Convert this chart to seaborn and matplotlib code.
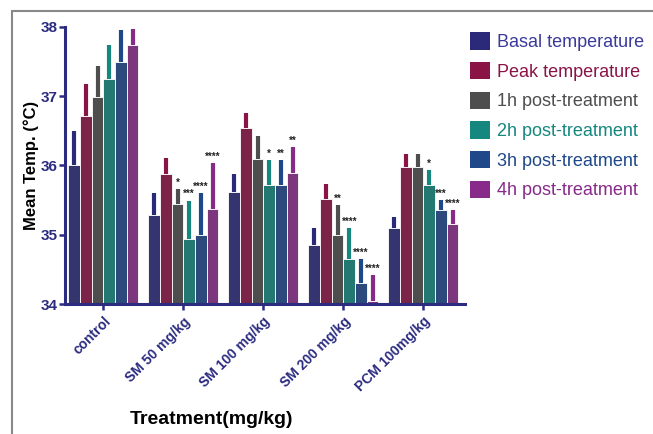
import matplotlib
matplotlib.use("Agg")
import matplotlib.pyplot as plt
from matplotlib.lines import Line2D
from matplotlib.patches import Patch
import seaborn as sns
import pandas as pd
import numpy as np

groups = ["control", "SM 50 mg/kg", "SM 100 mg/kg", "SM 200 mg/kg", "PCM 100mg/kg"]
series = ["Basal temperature", "Peak temperature", "1h post-treatment",
          "2h post-treatment", "3h post-treatment", "4h post-treatment"]
means = {
    "Basal temperature": [36.00, 35.29, 35.62, 34.85, 35.09],
    "Peak temperature":  [36.71, 35.88, 36.54, 35.52, 35.97],
    "1h post-treatment": [36.99, 35.44, 36.09, 35.00, 35.97],
    "2h post-treatment": [37.25, 34.94, 35.72, 34.65, 35.72],
    "3h post-treatment": [37.49, 34.99, 35.72, 34.30, 35.36],
    "4h post-treatment": [37.74, 35.37, 35.89, 34.05, 35.16],
}
upper = {
    "Basal temperature": [36.49, 35.60, 35.88, 35.09, 35.26],
    "Peak temperature":  [37.17, 36.10, 36.76, 35.73, 36.16],
    "1h post-treatment": [37.43, 35.66, 36.43, 35.43, 36.16],
    "2h post-treatment": [37.73, 35.49, 36.08, 35.10, 35.93],
    "3h post-treatment": [37.95, 35.60, 36.08, 34.65, 35.50],
    "4h post-treatment": [37.97, 36.03, 36.26, 34.42, 35.35],
}
stars = {
    "Basal temperature": ["", "", "", "", ""],
    "Peak temperature":  ["", "", "", "", ""],
    "1h post-treatment": ["", "*", "", "**", ""],
    "2h post-treatment": ["", "***", "*", "****", "*"],
    "3h post-treatment": ["", "****", "**", "****", "***"],
    "4h post-treatment": ["", "****", "**", "****", "****"],
}
colors = ["#2a2a78", "#8a1446", "#4e4e4e", "#15877e", "#1f4889", "#872a89"]
text_colors = ["#3a3a9c", "#8a1446", "#4e4e4e", "#15877e", "#1f4889", "#872a89"]
navy = "#2b2b80"

rows = []
for s in series:
    for g, m in zip(groups, means[s]):
        rows.append({"group": g, "series": s, "temp": m})
df = pd.DataFrame(rows)

sns.set_theme(style="white")
plt.rcParams["font.family"] = ["Liberation Sans", "DejaVu Sans"]

fig = plt.figure(figsize=(6.53, 4.34), dpi=100)
ax = fig.add_axes([0.0995, 0.2995, 0.6125, 0.639])

sns.barplot(data=df, x="group", y="temp", hue="series", order=groups,
            hue_order=series, palette=colors, width=0.875, errorbar=None,
            edgecolor="white", linewidth=0.6, ax=ax, legend=False)

for s, cont, c in zip(series, ax.containers, colors):
    xs = [p.get_x() + p.get_width() / 2 for p in cont]
    m = np.array(means[s])
    u = np.array(upper[s])
    ax.errorbar(xs, m, yerr=[np.zeros_like(m), u - m], fmt="none",
                ecolor=c, elinewidth=3.0, capsize=0)
    for x, top, st in zip(xs, u, stars[s]):
        if st:
            ax.text(x, top + 0.02, st, ha="center", va="bottom",
                    fontsize=7, fontweight="bold", color="#222222")

ax.set_ylim(34, 38)
ax.set_xlim(-0.48, 4.52)
ax.set_yticks([34, 35, 36, 37, 38])
sns.despine(ax=ax)
for sp in ["left", "bottom"]:
    ax.spines[sp].set_color(navy)
    ax.spines[sp].set_linewidth(2.2)
ax.tick_params(axis="both", colors=navy, length=4, width=1.8, direction="out",
               left=True, bottom=True)
ax.tick_params(axis="y", pad=1.5)
for lab in ax.get_yticklabels():
    lab.set_fontweight("bold"); lab.set_fontsize(11); lab.set_color(navy)
ax.set_xticks(range(len(groups)))
ax.set_xticklabels(groups, rotation=45, ha="right", rotation_mode="anchor",
                   fontsize=10, fontweight="bold", color=navy)
ax.set_ylabel("Mean Temp. (°C)", fontsize=12, fontweight="bold", color="black",
              labelpad=1)
ax.set_xlabel("Treatment(mg/kg)", fontsize=14, fontweight="bold", color="black")
ax.xaxis.set_label_coords(0.3675, -0.386)
ax.xaxis.label.set_va("top")

handles = [Patch(facecolor=c, edgecolor="none") for c in colors]
leg = fig.legend(handles, series, loc="upper left", bbox_to_anchor=(0.695, 0.963),
                 frameon=False, fontsize=13, handlelength=1.1, handleheight=1.1,
                 handletextpad=0.4, labelspacing=0.6)
for t, c in zip(leg.get_texts(), text_colors):
    t.set_color(c)

fig.add_artist(Line2D([12 / 653, 12 / 653], [0, 1 - 11 / 434], color="#888888", lw=1.5))
fig.add_artist(Line2D([12 / 653, 1], [1 - 11 / 434, 1 - 11 / 434], color="#888888", lw=1.5))

fig.savefig("out.png", dpi=100)
